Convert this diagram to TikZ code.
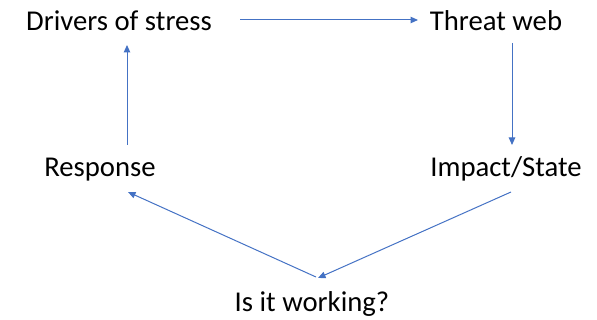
\documentclass[tikz,border=0pt]{standalone}
\usepackage{fontspec}
\setmainfont{Carlito}
\usetikzlibrary{arrows.meta}
\definecolor{flowblue}{HTML}{4472C4}
\begin{document}
\begin{tikzpicture}[x=1pt,y=-1pt,
  label/.style={inner sep=0pt,anchor=base,font=\fontsize{28.7}{32}\selectfont},
  flow/.style={draw=flowblue,line width=1pt,-{Triangle[length=7.5pt,width=6.5pt]}}]
\useasboundingbox (0,0) rectangle (597,320);
% the five stages of the cycle
\node[label] (drivers)  at (119,31)  {Drivers of stress};
\node[label] (threat)   at (496,31)  {Threat web};
\node[label] (impact)   at (506,177) {Impact/State};
\node[label] (working)  at (312,312) {Is it working?};
\node[label] (response) at (100,177) {Response};
% connectors around the cycle
\draw[flow] ([shift={(121,-11)}]drivers.base) -- ([shift={(-78,-11)}]threat.base);
\draw[flow] ([shift={(16,12)}]threat.base) -- ([shift={(6,-32)}]impact.base);
\draw[flow] ([shift={(5,15)}]impact.base) -- ([shift={(6,-34)}]working.base);
\draw[flow] ([shift={(4,-35)}]working.base) -- ([shift={(28,15)}]response.base);
\draw[flow] ([shift={(27,-32)}]response.base) -- ([shift={(8,14)}]drivers.base);
\end{tikzpicture}
\end{document}
